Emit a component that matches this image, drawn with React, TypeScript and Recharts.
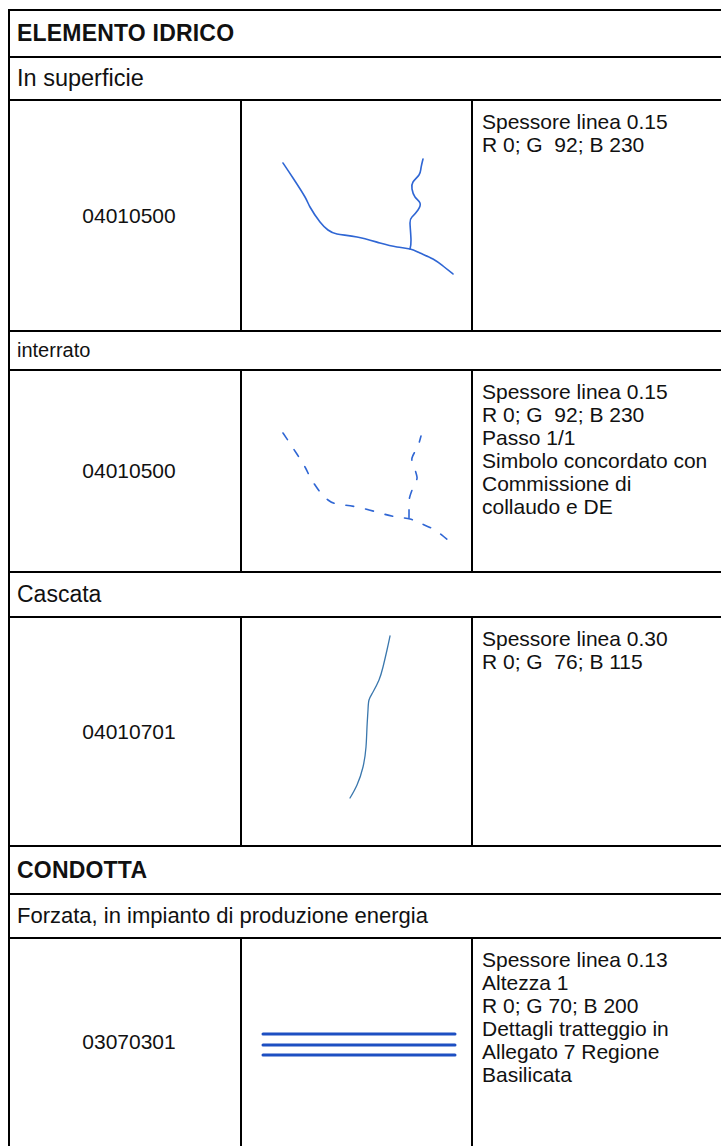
import React from 'react';
import { LineChart, Line, XAxis, YAxis } from 'recharts';

// ---- Data ----
const groupTitles = ['ELEMENTO IDRICO', 'CONDOTTA'];
const sectionLabels = ['In superficie', 'interrato', 'Cascata', 'Forzata, in impianto di produzione energia'];
const codes = ['04010500', '04010500', '04010701', '03070301'];
const descriptions: string[][] = [
  ['Spessore linea 0.15', 'R 0; G  92; B 230'],
  ['Spessore linea 0.15', 'R 0; G  92; B 230', 'Passo 1/1', 'Simbolo concordato con', 'Commissione di', 'collaudo e DE'],
  ['Spessore linea 0.30', 'R 0; G  76; B 115'],
  ['Spessore linea 0.13', 'Altezza 1', 'R 0; G 70; B 200', 'Dettagli tratteggio in', 'Allegato 7 Regione', 'Basilicata'],
];

// river sketch (symbol units)
const riverMain = [
  { x: 42, y: 63 }, { x: 52, y: 78 }, { x: 64, y: 97 }, { x: 69, y: 107 }, { x: 79, y: 122 },
  { x: 87, y: 130 }, { x: 96, y: 134 }, { x: 116, y: 137 }, { x: 139, y: 143 }, { x: 156, y: 147 },
  { x: 169, y: 149 }, { x: 179, y: 153 }, { x: 192, y: 159 }, { x: 202, y: 166 }, { x: 212, y: 174 },
];
const riverTributary = [
  { x: 169, y: 149 }, { x: 170, y: 140 }, { x: 169, y: 123 }, { x: 171, y: 117 }, { x: 177, y: 110 },
  { x: 179, y: 103 }, { x: 174, y: 97 }, { x: 171, y: 89 }, { x: 172, y: 82 }, { x: 178, y: 75 },
  { x: 180, y: 68 }, { x: 182, y: 59 },
];
const buriedTributary = [
  { x: 168, y: 148 }, { x: 168, y: 135 }, { x: 169, y: 126 }, { x: 174, y: 113 }, { x: 176, y: 107 },
  { x: 173, y: 97 }, { x: 171, y: 88 }, { x: 176, y: 78 }, { x: 180, y: 66 },
];
const waterfall = [
  { x: 149, y: 19 }, { x: 146, y: 33 }, { x: 142, y: 50 }, { x: 138, y: 63 }, { x: 132, y: 75 },
  { x: 128, y: 83 }, { x: 127, y: 93 }, { x: 126, y: 110 }, { x: 125, y: 130 }, { x: 122, y: 150 },
  { x: 116, y: 168 }, { x: 109, y: 181 },
];
const pipeTop = [{ x: 22, y: 96 }, { x: 214, y: 96 }];
const pipeMid = [{ x: 22, y: 107 }, { x: 214, y: 107 }];
const pipeBottom = [{ x: 22, y: 117 }, { x: 214, y: 117 }];

const FONT = '"Liberation Sans", Arial, Helvetica, sans-serif';
const CELL_W = 231;

type Pt = { x: number; y: number };
type Series = { data: Pt[]; color: string; width: number; dash?: string; curve?: 'linear' | 'natural' };

function Symbol({ h, series }: { h: number; series: Series[] }) {
  return (
    <LineChart width={CELL_W} height={h} margin={{ top: 0, right: 0, bottom: 0, left: 0 }}>
      <XAxis type="number" dataKey="x" domain={[0, CELL_W]} hide allowDataOverflow />
      <YAxis type="number" dataKey="y" domain={[0, h]} reversed hide allowDataOverflow />
      {series.map((s, i) => (
        <Line
          key={i}
          data={s.data}
          dataKey="y"
          type={s.curve ?? 'natural'}
          stroke={s.color}
          strokeWidth={s.width}
          strokeDasharray={s.dash}
          strokeLinecap="round"
          strokeLinejoin="round"
          dot={false}
          activeDot={false}
          isAnimationActive={false}
        />
      ))}
    </LineChart>
  );
}

const hLine = (y: number, t: number, key: string) => (
  <div key={key} style={{ position: 'absolute', left: 8, width: 721, top: y - t / 2, height: t, background: '#000' }} />
);
const vLine = (x: number, y1: number, y2: number, t: number, key: string) => (
  <div key={key} style={{ position: 'absolute', left: x - t / 2, width: t, top: y1, height: y2 - y1, background: '#000' }} />
);

export default function App() {
  const THIN = 1.5;
  const THICK = 2.5;
  const blue1 = '#2f66d4';
  const blue2 = '#3a77ad';
  const blue3 = '#1d4fc2';

  const rows = [
    { top: 100, bottom: 331 },
    { top: 370, bottom: 572 },
    { top: 617, bottom: 846 },
    { top: 938, bottom: 1150 },
  ];
  const labelRows = [
    { top: 57, bottom: 100, size: 23.5 },
    { top: 331, bottom: 370, size: 20 },
    { top: 572, bottom: 617, size: 23 },
    { top: 894, bottom: 938, size: 22 },
  ];
  const titleRows = [
    { top: 10, bottom: 57 },
    { top: 846, bottom: 894 },
  ];

  const symbols: Series[][] = [
    [
      { data: riverMain, color: blue1, width: 1.6 },
      { data: riverTributary, color: blue1, width: 1.6 },
    ],
    [
      { data: riverMain, color: blue1, width: 1.6, dash: '8 12' },
      { data: buriedTributary, color: blue1, width: 1.6, dash: '8 12' },
    ],
    [{ data: waterfall, color: blue2, width: 1.3 }],
    [
      { data: pipeTop, color: blue3, width: 3, curve: 'linear' },
      { data: pipeMid, color: blue3, width: 3, curve: 'linear' },
      { data: pipeBottom, color: blue3, width: 3, curve: 'linear' },
    ],
  ];

  return (
    <div
      style={{
        position: 'absolute', left: 0, top: 0, width: 721, height: 1146, overflow: 'hidden',
        background: '#fff', fontFamily: FONT, color: '#111',
      }}
    >
      {hLine(10, THICK, 'h0')}
      {hLine(57, THICK, 'h1')}
      {hLine(100, THIN, 'h2')}
      {hLine(331, THIN, 'h3')}
      {hLine(370, THIN, 'h4')}
      {hLine(572, THIN, 'h5')}
      {hLine(617, THIN, 'h6')}
      {hLine(846, THICK, 'h7')}
      {hLine(894, THICK, 'h8')}
      {hLine(938, THIN, 'h9')}
      {vLine(9, 9, 1146, 2, 'vl')}
      {rows.map((r, i) => vLine(241, r.top, r.bottom, THIN, 'va' + i))}
      {rows.map((r, i) => vLine(472, r.top, r.bottom, THIN, 'vb' + i))}

      {titleRows.map((r, i) => (
        <div key={'t' + i} style={{ position: 'absolute', left: 17, top: r.top, height: r.bottom - r.top, display: 'flex', alignItems: 'center', fontSize: 23, fontWeight: 'bold', letterSpacing: 0.2, whiteSpace: 'nowrap' }}>
          {groupTitles[i]}
        </div>
      ))}
      {labelRows.map((r, i) => (
        <div key={'l' + i} style={{ position: 'absolute', left: 17, top: r.top, height: r.bottom - r.top, display: 'flex', alignItems: 'center', fontSize: r.size, whiteSpace: 'nowrap' }}>
          {sectionLabels[i]}
        </div>
      ))}
      {rows.map((r, i) => {
        const h = Math.min(r.bottom, 1146) - r.top;
        const rowH = i === 3 ? 208 : r.bottom - r.top;
        return (
          <React.Fragment key={'r' + i}>
            <div style={{ position: 'absolute', left: 8, width: 242, top: r.top, height: rowH, display: 'flex', alignItems: 'center', justifyContent: 'center', fontSize: 21, whiteSpace: 'nowrap' }}>
              {codes[i]}
            </div>
            <div style={{ position: 'absolute', left: 241, top: r.top }}>
              <Symbol h={h} series={symbols[i]} />
            </div>
            <div style={{ position: 'absolute', left: 482, top: r.top + 10, fontSize: 21, lineHeight: '23px', whiteSpace: 'pre' }}>
              {descriptions[i].map((t, j) => (
                <div key={j}>{t}</div>
              ))}
            </div>
          </React.Fragment>
        );
      })}
    </div>
  );
}
